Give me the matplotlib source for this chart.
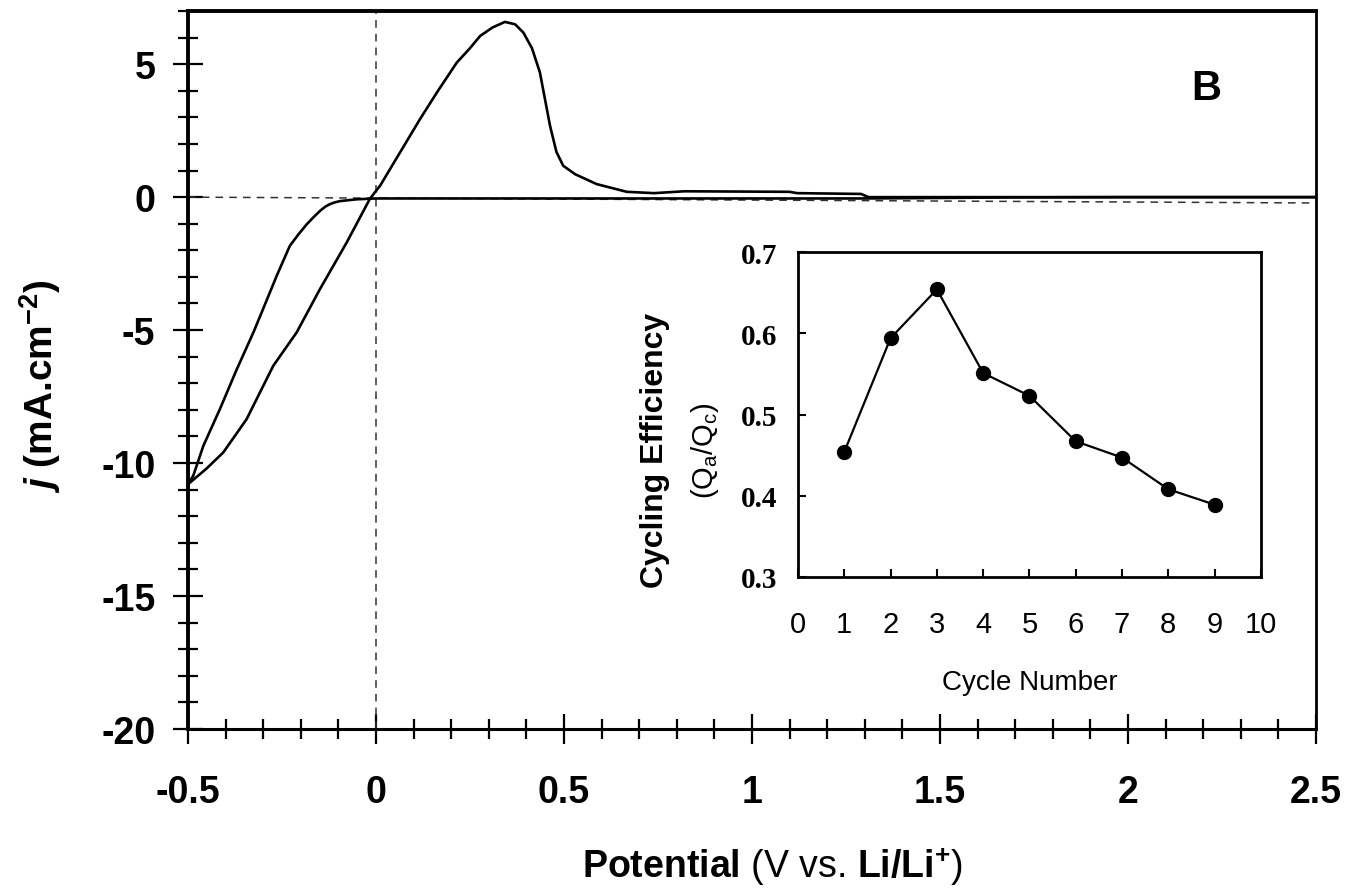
import numpy as np
import matplotlib.pyplot as plt
from matplotlib.ticker import MultipleLocator, FormatStrFormatter

plt.rcParams['font.family'] = ['Liberation Sans', 'DejaVu Sans']
plt.rcParams['axes.unicode_minus'] = False
plt.rcParams['mathtext.fontset'] = 'custom'
plt.rcParams['mathtext.rm'] = 'Liberation Sans'
plt.rcParams['mathtext.bf'] = 'Liberation Sans:bold'
plt.rcParams['mathtext.it'] = 'Liberation Sans:italic:bold'

# cathodic sweep, 2.5 V down to -0.5 V
cath_v = [2.5, 2.0, 1.7, 1.3, 1.0, 0.5, 0.2, 0.0, -0.05, -0.096, -0.11, -0.122,
          -0.135, -0.149, -0.165, -0.184, -0.205, -0.229, -0.264, -0.3, -0.326,
          -0.37, -0.415, -0.459, -0.486, -0.5]
cath_j = [0.0, 0.0, -0.01, -0.05, -0.05, -0.05, -0.05, -0.05, -0.08, -0.15, -0.2,
          -0.26, -0.36, -0.52, -0.74, -1.02, -1.38, -1.83, -2.96, -4.2, -5.09,
          -6.47, -7.97, -9.35, -10.48, -10.8]

# anodic sweep, -0.5 V back up to 2.5 V
anod_v = [-0.5, -0.45, -0.406, -0.344, -0.273, -0.211, -0.149, -0.078, -0.016,
          0.011, 0.064, 0.117, 0.165, 0.215, 0.25, 0.277, 0.31, 0.343, 0.37,
          0.392, 0.415, 0.436, 0.463, 0.48, 0.498, 0.53, 0.587, 0.667, 0.74,
          0.82, 1.1, 1.12, 1.29, 1.31, 1.6, 2.0, 2.5]
anod_j = [-10.8, -10.2, -9.6, -8.35, -6.34, -5.09, -3.46, -1.71, -0.06,
          0.43, 1.68, 2.93, 4.0, 5.06, 5.6, 6.06, 6.38, 6.59, 6.5,
          6.19, 5.6, 4.69, 2.68, 1.7, 1.18, 0.86, 0.49, 0.2, 0.15,
          0.22, 0.2, 0.15, 0.12, 0.0, 0.0, 0.0, 0.0]

# zero current guide (a bit sloped in the original)
zero_v = [-0.5, 2.5]
zero_j = [0.0, -0.22]

x_ticks = [-0.5, 0, 0.5, 1, 1.5, 2, 2.5]
y_ticks = [-20, -15, -10, -5, 0, 5]

# inset: cycling efficiency
cycles = [1, 2, 3, 4, 5, 6, 7, 8, 9]
efficiency = [0.454, 0.594, 0.654, 0.551, 0.523, 0.467, 0.447, 0.408, 0.389]

fig = plt.figure(figsize=(13.62, 8.95), dpi=100)
ax = fig.add_axes([0.138, 0.1844, 0.8282, 0.8022])

ax.plot(zero_v, zero_j, color='#333333', lw=1.1, ls=(0, (5, 4)))
ax.axvline(0, color='#333333', lw=1.1, ls=(0, (5, 4)))
ax.plot(cath_v, cath_j, color='black', lw=1.9)
ax.plot(anod_v, anod_j, color='black', lw=1.9)

ax.set_xlim(-0.5, 2.5)
ax.set_ylim(-20, 7)
ax.set_xticks(x_ticks)
ax.set_yticks(y_ticks)
ax.xaxis.set_major_formatter(FormatStrFormatter('%g'))
ax.xaxis.set_minor_locator(MultipleLocator(0.1))
ax.yaxis.set_minor_locator(MultipleLocator(1))
ax.tick_params(which='major', direction='inout', length=21, width=1.6,
               labelsize=27)
ax.tick_params(which='minor', direction='inout', length=14, width=1.6)
ax.tick_params(axis='x', which='major', pad=22)
ax.tick_params(axis='y', which='major', pad=13)
for lab in ax.get_xticklabels() + ax.get_yticklabels():
    lab.set_fontweight('bold')

ax.spines['left'].set_linewidth(2.8)
ax.spines['top'].set_linewidth(2.8)
ax.spines['bottom'].set_linewidth(2.2)
ax.spines['right'].set_linewidth(2.0)

ax.set_xlabel(r'$\mathbf{Potential}$ (V vs. $\mathbf{Li/Li^{+}}$)', fontsize=27,
              va='center')
ax.xaxis.set_label_coords(0.5186, -0.19)
ax.set_ylabel(r'$j$ (mA.cm$^{\mathbf{-2}}$)', fontsize=28, fontweight='bold',
              va='center')
ax.yaxis.set_label_coords(-0.131, 0.479)

ax.text(0.903, 0.893, 'B', transform=ax.transAxes, fontsize=30,
        fontweight='bold', ha='center', va='center')

# inset
ax2 = fig.add_axes([0.5859, 0.3542, 0.3399, 0.3631])
ax2.plot(cycles, efficiency, color='black', lw=1.6, marker='o', ms=10)
ax2.set_xlim(0, 10)
ax2.set_ylim(0.3, 0.7)
ax2.set_xticks(range(0, 11))
ax2.set_yticks([0.3, 0.4, 0.5, 0.6, 0.7])
ax2.yaxis.set_major_formatter(FormatStrFormatter('%.1f'))
ax2.tick_params(direction='in', length=6, width=1.5, top=False, right=False)
ax2.tick_params(axis='x', pad=24)
ax2.tick_params(axis='y', pad=15)
for lab in ax2.get_xticklabels():
    lab.set_family(['Liberation Sans Narrow', 'Liberation Sans'])
    lab.set_fontsize(21)
for lab in ax2.get_yticklabels():
    lab.set_family(['Liberation Serif', 'DejaVu Serif'])
    lab.set_fontsize(21)
    lab.set_fontweight('bold')
for sp in ax2.spines.values():
    sp.set_linewidth(2.0)

fig.text(0.481, 0.497, 'Cycling Efficiency', rotation=90, fontsize=23,
         fontweight='bold', ha='center', va='center')
fig.text(0.5176, 0.497, r'(Q$_\mathrm{a}$/Q$_\mathrm{c}$)', rotation=90,
         fontsize=21, ha='center', va='center')
fig.text(0.7562, 0.237, 'Cycle Number', fontsize=20, ha='center', va='center')

fig.savefig('out.png', dpi=100)
